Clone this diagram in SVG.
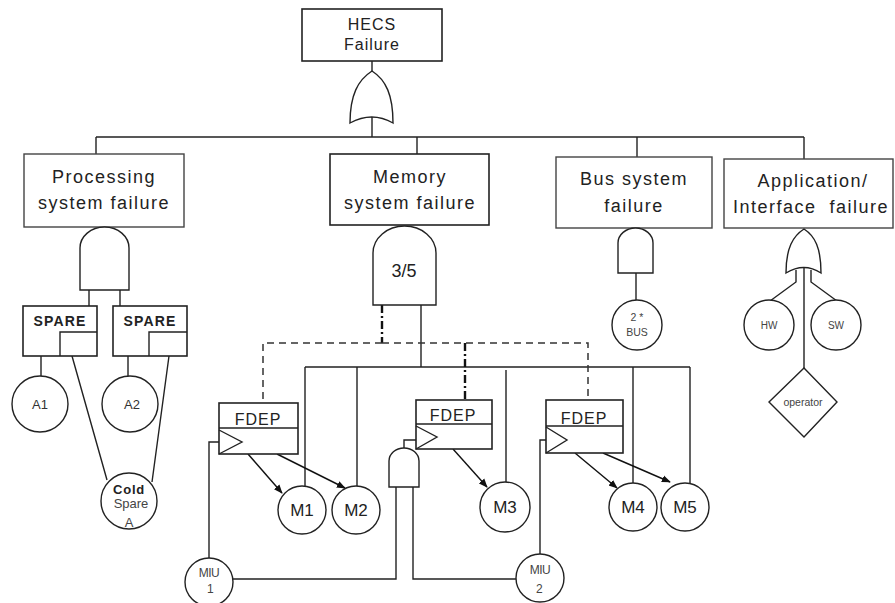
<svg xmlns="http://www.w3.org/2000/svg" width="895" height="603" viewBox="0 0 895 603">
<defs>
<marker id="arr" viewBox="0 0 10 10" refX="9" refY="5" markerWidth="9" markerHeight="9" orient="auto" markerUnits="userSpaceOnUse">
<path d="M0,1 L10,5 L0,9 Z" fill="#111"/>
</marker>
<style>
.box{fill:#fff;stroke:#222;stroke-width:1.6}
.gbox{fill:#fff;stroke:#444;stroke-width:1.4}
.gate{fill:#fff;stroke:#222;stroke-width:1.4}
.circ{fill:#fff;stroke:#222;stroke-width:1.4}
.ln{fill:none;stroke:#222;stroke-width:1.4}
.dash{fill:none;stroke:#333;stroke-width:1.5;stroke-dasharray:7,5}
.dd{fill:none;stroke:#111;stroke-width:2.4;stroke-dasharray:8,3,2,3}
.arrow{fill:none;stroke:#111;stroke-width:1.4;marker-end:url(#arr)}
text{font-family:"Liberation Sans",Arial,sans-serif;fill:#222;text-anchor:middle}
.big{font-size:18px;letter-spacing:1.5px}
.mid{font-size:16px;letter-spacing:1px}
.sp{font-size:14px;font-weight:bold;letter-spacing:1.2px}
.m{font-size:17px}
.sm{font-size:13px;fill:#333}
.xs{font-size:12px;fill:#444;letter-spacing:-0.5px}
.tiny{font-size:10.5px;fill:#444}
</style>
</defs>

<g id="connectors">
<path class="ln" d="M372,61 V71 M372,117 V137 M96,137 H804 M96,137 V154 M417,137 V154 M637,137 V157 M804,137 V159"/>
<path class="ln" d="M89,290 V306 M120,290 V306"/>
<path class="ln" d="M41,356 V376 M128,356 V376 M72,356 L107,480 M169,356 L152,482"/>
<path class="ln" d="M421,305 V367 M305,367 H690 M305,367 V486 M357,367 V486 M506,370 V482 M633,367 V483 M690,367 V483"/>
<path class="dd" d="M382,305 V343"/>
<path class="dash" d="M382,343 H263 V403 M382,343 H588 V400"/>
<path class="dd" d="M465,343 V399"/>
<line class="arrow" x1="248" y1="454" x2="282" y2="493"/>
<line class="arrow" x1="277" y1="454" x2="345" y2="488"/>
<line class="arrow" x1="453" y1="449" x2="487" y2="487"/>
<line class="arrow" x1="575" y1="453" x2="617" y2="488"/>
<line class="arrow" x1="603" y1="453" x2="670" y2="482"/>
<path class="ln" d="M209,558 V442 H219"/>
<path class="ln" d="M233,579 H396 V487"/>
<path class="ln" d="M413,487 V579 H516"/>
<path class="ln" d="M404,448 V440 H419"/>
<path class="ln" d="M540,554 V440 H546"/>
<path class="ln" d="M636,273 V300"/>
<path class="ln" d="M796,270 V282 L770,301 M811,270 V282 L837,301 M804,267 V368"/>
</g>

<g id="hecs">
<rect class="box" x="302" y="9" width="140" height="52"/>
<text class="mid" x="372" y="30">HECS</text>
<text class="mid" x="372" y="50">Failure</text>
</g>
<g id="or-top">
<path class="gate" d="M372,71 C358,80 350,95 350,123 Q372,111 393,123 C393,95 386,80 372,71 Z"/>
</g>

<g id="processing">
<rect class="gbox" x="24" y="154" width="160" height="73"/>
<text class="big" x="104" y="183">Processing</text>
<text class="big" x="104" y="209">system failure</text>
</g>
<g id="and-processing">
<path class="gate" d="M80,290 V248 A24.5,21 0 0 1 129,248 V290 Z"/>
</g>
<g id="spare1">
<rect class="box" x="23" y="306" width="74" height="50"/>
<path class="ln" d="M60,356 V332 H97"/>
<text class="sp" x="60" y="326">SPARE</text>
</g>
<g id="spare2">
<rect class="box" x="113" y="306" width="74" height="50"/>
<path class="ln" d="M149,356 V332 H187"/>
<text class="sp" x="150" y="326">SPARE</text>
</g>
<g id="a1"><circle class="circ" cx="40" cy="404" r="28"/><text class="sm" x="40" y="409">A1</text></g>
<g id="a2"><circle class="circ" cx="130" cy="404" r="28"/><text class="sm" x="132" y="409">A2</text></g>
<g id="coldspare">
<circle class="circ" cx="129" cy="501" r="28"/>
<text x="129" y="494" style="font-size:13px;font-weight:bold;letter-spacing:0.8px">Cold</text>
<text x="131" y="508" style="font-size:13px;fill:#444">Spare</text>
<text x="129" y="527" style="font-size:13px;fill:#444">A</text>
</g>

<g id="memory">
<rect class="box" x="330" y="154" width="159" height="71"/>
<text class="big" x="410" y="183">Memory</text>
<text class="big" x="410" y="209">system failure</text>
</g>
<g id="vote-memory">
<path class="gate" d="M373,305 V253 A31.5,27 0 0 1 436,253 V305 Z"/>
<text x="404" y="277" style="font-size:18px">3/5</text>
</g>

<g id="fdep1">
<rect class="box" x="219" y="403" width="79" height="51"/>
<line class="ln" x1="219" y1="428" x2="298" y2="428"/>
<path class="ln" d="M219,430 L242,442 L219,454"/>
<text class="mid" x="258" y="425">FDEP</text>
</g>
<g id="fdep2">
<rect class="box" x="416" y="400" width="76" height="49"/>
<line class="ln" x1="416" y1="424" x2="492" y2="424"/>
<path class="ln" d="M416,426 L437,437 L416,449"/>
<text class="mid" x="453" y="421">FDEP</text>
</g>
<g id="fdep3">
<rect class="box" x="546" y="400" width="77" height="53"/>
<line class="ln" x1="546" y1="426" x2="623" y2="426"/>
<path class="ln" d="M546,427 L567,440 L546,453"/>
<text class="mid" x="584" y="424">FDEP</text>
</g>
<g id="and-miu">
<path class="gate" d="M389,487 V461 A15,13 0 0 1 419,461 V487 Z"/>
</g>

<g id="m1"><circle class="circ" cx="302" cy="510" r="24"/><text class="m" x="302" y="516">M1</text></g>
<g id="m2"><circle class="circ" cx="356" cy="510" r="24"/><text class="m" x="356" y="516">M2</text></g>
<g id="m3"><circle class="circ" cx="505" cy="507" r="25"/><text class="m" x="505" y="513">M3</text></g>
<g id="m4"><circle class="circ" cx="633" cy="507" r="24"/><text class="m" x="633" y="513">M4</text></g>
<g id="m5"><circle class="circ" cx="685" cy="507" r="24"/><text class="m" x="685" y="513">M5</text></g>

<g id="miu1"><circle class="circ" cx="209" cy="582" r="24"/><text class="xs" x="209" y="577">MIU</text><text class="xs" x="210" y="593">1</text></g>
<g id="miu2"><circle class="circ" cx="540" cy="578" r="24"/><text class="xs" x="540" y="574">MIU</text><text class="xs" x="539" y="593">2</text></g>

<g id="bus">
<rect class="gbox" x="556" y="157" width="156" height="71"/>
<text class="big" x="634" y="185">Bus system</text>
<text class="big" x="634" y="212">failure</text>
</g>
<g id="and-bus">
<path class="gate" d="M618,273 V243 A17.5,15 0 0 1 653,243 V273 Z"/>
</g>
<g id="bus2">
<circle class="circ" cx="637" cy="325" r="25"/>
<text class="tiny" x="637" y="321">2 *</text>
<text class="tiny" x="637" y="336">BUS</text>
</g>

<g id="application">
<rect class="gbox" x="724" y="159" width="169" height="69"/>
<text class="big" x="813" y="187">Application/</text>
<text class="big" x="811" y="213" xml:space="preserve">Interface  failure</text>
</g>
<g id="or-application">
<path class="gate" d="M804,229 C793,236 786,248 786,273 Q804,262 821,273 C821,248 815,236 804,229 Z"/>
</g>
<g id="hw"><circle class="circ" cx="769" cy="325" r="25"/><text class="tiny" x="769" y="329" style="font-size:10px">HW</text></g>
<g id="sw"><circle class="circ" cx="836" cy="325" r="25"/><text class="tiny" x="836" y="329" style="font-size:10px">SW</text></g>
<g id="operator">
<path class="gate" d="M804,368 L837,402 L804,437 L769,402 Z"/>
<text class="tiny" x="803" y="406">operator</text>
</g>
</svg>
